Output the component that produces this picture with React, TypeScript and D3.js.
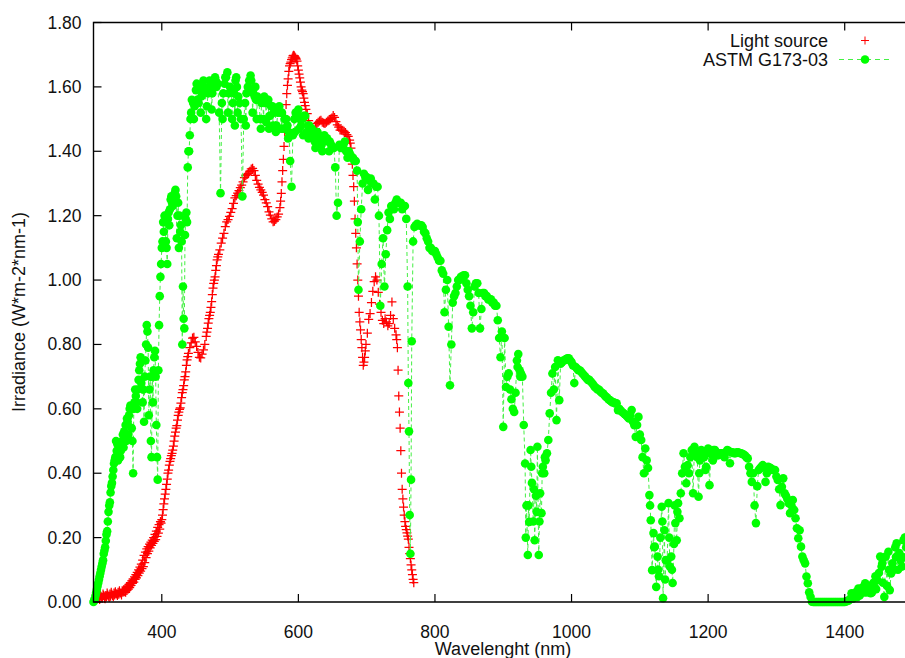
import React from "react";
import * as d3 from "d3";

// ---- Data ----
// Light source: readings on a 2 nm wavelength grid starting at 305 nm
const RED_START_NM = 305;
const RED_STEP_NM = 2;
const RED_VAL = [
  0.010,0.015,0.008,0.018,0.012,0.020,0.010,0.016,0.022,0.014,
  0.018,0.024,0.016,0.022,0.026,0.020,0.024,0.028,0.022,0.030,
  0.032,0.030,0.036,0.040,0.045,0.052,0.058,0.062,0.070,0.075,
  0.082,0.090,0.096,0.104,0.110,0.122,0.138,0.150,0.158,0.168,
  0.176,0.182,0.188,0.194,0.204,0.214,0.226,0.245,0.270,0.305,
  0.335,0.365,0.400,0.425,0.445,0.462,0.484,0.515,0.540,0.565,
  0.590,0.603,0.635,0.660,0.690,0.715,0.752,0.772,0.790,0.805,
  0.820,0.822,0.808,0.794,0.775,0.760,0.758,0.770,0.783,0.800,
  0.825,0.850,0.880,0.900,0.933,0.975,1.000,1.030,1.063,1.080,
  1.094,1.115,1.130,1.145,1.166,1.181,1.188,1.198,1.210,1.222,
  1.238,1.255,1.262,1.270,1.278,1.287,1.295,1.305,1.318,1.324,
  1.328,1.331,1.338,1.345,1.347,1.340,1.325,1.310,1.298,1.288,
  1.280,1.272,1.264,1.250,1.240,1.228,1.212,1.202,1.190,1.181,
  1.183,1.188,1.196,1.205,1.225,1.269,1.340,1.415,1.506,1.579,
  1.625,1.665,1.677,1.690,1.698,1.693,1.686,1.665,1.640,1.615,
  1.590,1.579,1.552,1.530,1.517,1.495,1.478,1.465,1.455,1.449,
  1.470,1.486,1.490,1.494,1.496,1.490,1.488,1.486,1.490,1.494,
  1.496,1.500,1.503,1.511,1.505,1.492,1.482,1.475,1.466,1.465,
  1.465,1.462,1.458,1.452,1.446,1.435,1.410,1.360,1.290,1.190,
  1.100,1.000,0.900,0.845,0.790,0.735,0.760,0.800,0.835,0.878,
  0.896,0.930,0.965,0.995,1.010,1.000,0.962,0.925,0.900,0.875,
  0.865,0.880,0.870,0.858,0.865,0.890,0.932,0.880,0.850,0.830,
  0.790,0.640,0.540,0.400,0.320,0.270,0.235,0.215,0.195,0.150,
  0.115,0.085,0.060
];
// Light source: extra readings in the noisy and steep parts
const RED_EXTRA_NM = [306,308,310,312,314,316,318,320,322,324,326,328,330,332,334,336,338,340,342,344,346,348,350,352,354,356,358,360,362,364,366,368,370,372,374,376,378,380,382,384,386,388,390,392,394,396,398,400,402,404,406,408,410,412,414,416,418,420,422,424,426,428,430,432,434,436,438,466,468,470,472,474,476,478,480,482,574,576,578,580,582,584,586,588,590,592,594,596,598,600,602,604,606,608,610,676,678,680,682,684,686,688,690,692,694,696,698,744,746,748,750,752,754,756,758,760,762,764,766,768];
const RED_EXTRA_VAL = [0.020,0.012,0.022,0.015,0.025,0.012,0.020,0.028,0.018,0.025,0.030,0.020,0.028,0.032,0.025,0.030,0.035,0.028,0.035,0.038,0.040,0.045,0.048,0.055,0.060,0.066,0.072,0.078,0.085,0.092,0.100,0.108,0.118,0.130,0.145,0.155,0.165,0.172,0.180,0.186,0.192,0.200,0.210,0.220,0.232,0.240,0.250,0.256,0.287,0.320,0.350,0.382,0.410,0.437,0.455,0.472,0.500,0.528,0.548,0.580,0.598,0.618,0.650,0.672,0.700,0.735,0.762,0.838,0.866,0.890,0.915,0.955,0.990,1.010,1.045,1.072,1.245,1.305,1.375,1.460,1.545,1.605,1.648,1.672,1.685,1.696,1.697,1.690,1.680,1.652,1.628,1.600,1.585,1.565,1.542,1.425,1.385,1.325,1.245,1.145,1.050,0.950,0.870,0.815,0.760,0.745,0.780,0.815,0.720,0.590,0.470,0.350,0.295,0.250,0.225,0.205,0.170,0.135,0.100,0.070];

// ASTM G173-03: readings on a 2 nm grid starting at 300 nm
const ASTM_START_NM = 300;
const ASTM_STEP_NM = 2;
const ASTM_VAL = [
  0.00,0.01,0.03,0.05,0.07,0.09,0.11,0.13,0.16,0.19,
  0.22,0.28,0.31,0.36,0.39,0.43,0.45,0.47,0.44,0.45,
  0.47,0.50,0.48,0.52,0.50,0.56,0.58,0.61,0.54,0.40,
  0.62,0.64,0.60,0.69,0.74,0.68,0.62,0.56,0.75,0.86,
  0.79,0.66,0.50,0.70,0.72,0.78,0.55,0.38,0.86,1.01,
  1.10,1.18,1.20,1.12,1.05,1.21,1.22,1.26,1.23,1.24,
  1.28,1.13,1.24,1.20,1.17,0.80,0.88,1.14,1.21,1.35,
  1.40,1.50,1.56,1.55,1.54,1.59,1.56,1.55,1.60,1.57,
  1.58,1.60,1.59,1.54,1.58,1.62,1.59,1.58,1.61,1.63,
  1.60,1.61,1.52,1.27,1.55,1.58,1.61,1.63,1.645,1.58,
  1.60,1.59,1.55,1.58,1.62,1.60,1.57,1.55,1.50,1.26,
  1.50,1.55,1.58,1.60,1.62,1.635,1.59,1.58,1.57,1.56,
  1.57,1.56,1.50,1.55,1.56,1.57,1.55,1.56,1.56,1.51,
  1.54,1.54,1.52,1.53,1.48,1.52,1.54,1.52,1.52,1.47,
  1.50,1.50,1.48,1.46,1.37,1.29,1.45,1.50,1.52,1.52,
  1.53,1.50,1.48,1.50,1.51,1.51,1.46,1.48,1.48,1.47,
  1.47,1.45,1.43,1.45,1.46,1.45,1.44,1.42,1.43,1.45,
  1.44,1.44,1.43,1.43,1.42,1.41,1.41,1.35,1.20,1.24,
  1.42,1.41,1.41,1.42,1.43,1.40,1.38,1.40,1.39,1.38,
  1.38,1.37,1.37,1.34,0.97,1.12,1.22,1.30,1.33,1.32,
  1.32,1.28,1.31,1.315,1.30,1.30,1.25,1.29,1.29,1.20,
  0.92,1.05,1.13,0.98,1.08,1.155,1.21,1.19,1.23,1.23,
  1.22,1.24,1.25,1.24,1.24,1.24,1.22,1.23,1.23,1.19,
  0.98,0.53,0.15,0.81,1.12,1.165,1.17,1.175,1.17,1.17,
  1.17,1.165,1.15,1.145,1.13,1.12,1.10,1.10,1.09,1.09,
  1.09,1.08,1.07,1.06,1.06,1.03,1.02,0.90,0.97,1.00,
  0.855,0.673,0.80,0.93,0.95,0.96,0.98,1.00,1.00,1.01,
  1.01,1.015,1.015,0.99,0.97,0.95,0.92,0.85,0.90,0.98,
  0.99,0.99,0.96,0.85,0.91,0.96,0.96,0.95,0.95,0.94,
  0.94,0.94,0.93,0.93,0.92,0.92,0.875,0.82,0.76,0.84,
  0.544,0.82,0.668,0.70,0.71,0.66,0.63,0.60,0.59,0.65,
  0.75,0.77,0.72,0.71,0.70,0.55,0.43,0.30,0.146,0.249,
  0.472,0.37,0.25,0.192,0.33,0.482,0.146,0.338,0.276,0.42,
  0.40,0.44,0.462,0.503,0.586,0.65,0.71,0.66,0.73,0.565,
  0.751,0.627,0.74,0.745,0.75,0.751,0.755,0.757,0.757,0.75,
  0.745,0.735,0.68,0.73,0.725,0.72,0.72,0.715,0.71,0.705,
  0.70,0.695,0.69,0.69,0.685,0.68,0.675,0.668,0.665,0.66,
  0.66,0.655,0.65,0.648,0.643,0.638,0.635,0.63,0.627,0.624,
  0.62,0.62,0.617,0.617,0.596,0.60,0.595,0.59,0.587,0.583,
  0.58,0.575,0.57,0.58,0.596,0.56,0.549,0.513,0.55,0.575,
  0.52,0.503,0.45,0.40,0.477,0.44,0.416,0.332,0.254,0.099,
  0.214,0.172,0.047,0.141,0.08,0.20,0.296,0.012,0.223,0.13,
  0.13,0.307,0.11,0.141,0.059,0.18,0.245,0.192,0.307,0.26,
  0.338,0.40,0.462,0.42,0.369,0.425,0.40,0.45,0.472,0.338,
  0.482,0.46,0.45,0.327,0.44,0.472,0.46,0.45,0.41,0.47,
  0.477,0.363,0.46,0.47,0.472,0.472,0.465,0.455,0.46,0.462,
  0.462,0.455,0.45,0.465,0.472,0.47,0.431,0.465,0.465,0.462,
  0.462,0.465,0.465,0.463,0.462,0.46,0.458,0.455,0.45,0.446,
  0.42,0.40,0.373,0.40,0.30,0.245,0.36,0.41,0.415,0.42,
  0.425,0.42,0.373,0.40,0.42,0.418,0.415,0.41,0.41,0.41,
  0.39,0.379,0.35,0.301,0.358,0.384,0.338,0.33,0.32,0.307,
  0.276,0.30,0.317,0.286,0.26,0.229,0.198,0.223,0.172,0.141,
  0.13,0.12,0.079,0.058,0.03,0.016,0.001,0,0,0,
  0,0,0,0,0,0,0,0,0,0,
  0,0,0,0,0,0,0,0,0,0,
  0,0.002,0.003,0.005,0.01,0.027,0.01,0.02,0.03,0.015,
  0.042,0.02,0.035,0.045,0.03,0.058,0.03,0.04,0.05,0.027,
  0.03,0.06,0.045,0.04,0.068,0.09,0.141,0.11,0.06,0.016,
  0.141,0.05,0.156,0.037,0.089,0.12,0.10,0.17,0.182,0.10,
  0.152,0.13,0.11,0.192,0.20,0.17,0.18,0.21,0.22,0.19,
  0.21
];
// ASTM G173-03: extra readings in narrow bands and dense clouds
const ASTM_EXTRA_NM = [301,303,305,307,309,311,313,315,317,319,321,323,325,327,329,331,333,335,337,339,341,343,345,347,349,351,353,355,357,359,361,363,365,367,369,373,375,377,379,381,383,385,387,389,391,393,395,397,399,401,403,405,407,409,411,413,415,417,419,421,423,425,427,429,431,433,435,437,439,441,443,447,451,457,461,465,469,473,479,489,493,497,503,507,509,511,523,531,533,537,539,545,549,553,557,563,567,575,585,595,601,607,615,625,635,645,687,761,763,765,921,925,933,937,941,945,949,953,957,961,1115,1121,1127,1133,1137,1143,1147,1151,1155,1187,1197,1207,1445,1455,1465,1475,1485,1495];
const ASTM_EXTRA_VAL = [0.005,0.02,0.04,0.06,0.08,0.10,0.12,0.15,0.17,0.21,0.25,0.30,0.34,0.37,0.41,0.44,0.50,0.49,0.47,0.45,0.49,0.52,0.53,0.55,0.57,0.52,0.60,0.60,0.50,0.60,0.66,0.62,0.66,0.72,0.76,0.66,0.70,0.80,0.84,0.58,0.70,0.45,0.62,0.76,0.70,0.45,0.72,0.95,1.05,1.12,1.15,1.18,1.10,1.19,1.17,1.25,1.24,1.24,1.27,1.26,1.20,1.10,1.15,1.12,0.98,0.85,1.19,1.18,1.40,1.45,1.52,1.50,1.61,1.52,1.62,1.50,1.60,1.53,1.62,1.50,1.63,1.52,1.50,1.48,1.63,1.52,1.48,1.62,1.52,1.60,1.50,1.47,1.50,1.49,1.47,1.48,1.46,1.47,1.44,1.46,1.47,1.45,1.44,1.41,1.40,1.40,1.18,0.68,0.27,0.38,0.73,0.70,0.20,0.30,0.42,0.35,0.28,0.25,0.40,0.45,0.30,0.17,0.10,0.25,0.07,0.20,0.10,0.30,0.28,0.40,0.42,0.44,0.08,0.12,0.10,0.14,0.14,0.15];

const X_TICKS = [400, 600, 800, 1000, 1200, 1400];
const Y_TICKS = [0, 0.2, 0.4, 0.6, 0.8, 1.0, 1.2, 1.4, 1.6, 1.8];
const SERIES_NAMES = ["Light source", "ASTM G173-03"];

const W = 905;
const H = 658;
const LEFT = 93.5;
const RIGHT = 913;
const TOP = 22.5;
const BOTTOM = 602;
const FONT = "'Liberation Sans', Arial, Helvetica, sans-serif";
const RED = "#ff0000";
const GREEN = "#00ff00";
const DASH_GREEN = "#44f044";

export default function App() {
  const x = d3.scaleLinear().domain([300, 1500]).range([LEFT, RIGHT]);
  const y = d3.scaleLinear().domain([0, 1.8]).range([BOTTOM, TOP]);
  const fmt = d3.format(".2f");

  const redData: [number, number][] = [
    ...RED_VAL.map((v, i) => [RED_START_NM + RED_STEP_NM * i, v] as [number, number]),
    ...RED_EXTRA_NM.map((n, i) => [n, RED_EXTRA_VAL[i]] as [number, number]),
  ];
  const astmData: [number, number][] = [
    ...ASTM_VAL.map((v, i) => [ASTM_START_NM + ASTM_STEP_NM * i, v] as [number, number]),
    ...ASTM_EXTRA_NM.map((n, i) => [n, ASTM_EXTRA_VAL[i]] as [number, number]),
  ].sort((a, b) => a[0] - b[0]);

  const line = d3
    .line<[number, number]>()
    .x((d) => x(d[0]))
    .y((d) => y(d[1]));
  const plus = (cx: number, cy: number, s = 4.5) =>
    `M${cx - s},${cy}H${cx + s}M${cx},${cy - s}V${cy + s}`;
  const redPath = redData.map(([n, v]) => plus(x(n), y(v))).join("");

  return (
    <svg
      width={W}
      height={H}
      viewBox={`0 0 ${W} ${H}`}
      style={{ position: "absolute", left: 0, top: 0, background: "#fff" }}
      fontFamily={FONT}
    >
      <rect x={0} y={0} width={W} height={H} fill="#fff" />
      {/* data */}
      <path d={redPath} stroke={RED} strokeWidth={1.25} fill="none" />
      <path
        d={line(astmData) || ""}
        stroke={DASH_GREEN}
        strokeWidth={1}
        strokeDasharray="4,3"
        fill="none"
      />
      {astmData.map(([n, v], i) => (
        <circle key={i} cx={x(n)} cy={y(v)} r={4.3} fill={GREEN} />
      ))}

      {/* border */}
      <path
        d={`M${RIGHT},${TOP}H${LEFT}V${BOTTOM}H${RIGHT}`}
        stroke="#000"
        strokeWidth={1.4}
        fill="none"
      />
      {/* y ticks */}
      {Y_TICKS.map((t) => (
        <g key={"y" + t}>
          <line x1={LEFT} x2={LEFT + 8} y1={y(t)} y2={y(t)} stroke="#000" strokeWidth={1.2} />
          <text x={LEFT - 12} y={y(t) + 6} textAnchor="end" fontSize={17.5} fill="#111">
            {fmt(t)}
          </text>
        </g>
      ))}
      {/* x ticks */}
      {X_TICKS.map((t) => (
        <g key={"x" + t}>
          <line x1={x(t)} x2={x(t)} y1={BOTTOM} y2={BOTTOM - 8} stroke="#000" strokeWidth={1.2} />
          <line x1={x(t)} x2={x(t)} y1={TOP} y2={TOP + 8} stroke="#000" strokeWidth={1.2} />
          <text x={x(t)} y={638} textAnchor="middle" fontSize={17.5} fill="#111">
            {t}
          </text>
        </g>
      ))}
      {/* axis titles */}
      <text x={503} y={655} textAnchor="middle" fontSize={18} fill="#111">
        Wavelenght (nm)
      </text>
      <text
        transform={`translate(25,312) rotate(-90)`}
        textAnchor="middle"
        fontSize={18}
        fill="#111"
      >
        Irradiance (W*m-2*nm-1)
      </text>

      {/* legend */}
      <text x={828} y={47} textAnchor="end" fontSize={18} fill="#111">
        {SERIES_NAMES[0]}
      </text>
      <path d={plus(865, 40.5, 4)} stroke={RED} strokeWidth={1} />
      <text x={828} y={66} textAnchor="end" fontSize={18} fill="#111">
        {SERIES_NAMES[1]}
      </text>
      <line x1={839} x2={893} y1={59.5} y2={59.5} stroke={DASH_GREEN} strokeWidth={1} strokeDasharray="5,4" />
      <circle cx={865} cy={59.5} r={4.3} fill={GREEN} />
    </svg>
  );
}
